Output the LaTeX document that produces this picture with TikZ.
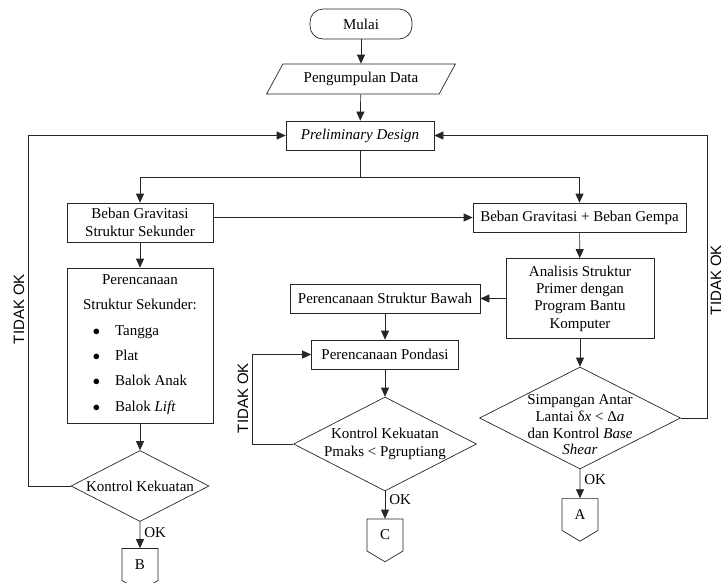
\documentclass[tikz,border=0pt]{standalone}
\usepackage{fontspec}
\setmainfont{Liberation Serif}
\setsansfont{Liberation Sans}
\usetikzlibrary{shapes.geometric, shapes.symbols, arrows.meta, positioning}
\tikzset{
	base/.style={draw=black!85, line width=0.7pt, inner sep=2pt, align=center, font=\fontsize{15}{17.4}\selectfont},
	startstop/.style={base, rounded corners=13pt, minimum width=102pt, minimum height=30pt},
	io/.style={base, trapezium, trapezium left angle=55, trapezium right angle=125, trapezium stretches=true, minimum width=189pt, minimum height=30pt},
	process/.style={base, rectangle, minimum height=29pt},
	decision/.style={draw=black!85, line width=0.7pt, diamond, inner sep=0pt},
	offpage/.style={base, signal, signal to=south, signal pointer angle=118, minimum width=36pt, minimum height=35pt, inner sep=0pt},
	arrow/.style={draw=black!85, line width=0.7pt, -{Triangle[length=9pt, width=8pt]}},
	line/.style={draw=black!85, line width=0.7pt},
	oklbl/.style={right, inner sep=4pt, font=\fontsize{15}{17}\selectfont},
	tidak/.style={rotate=90, inner sep=0pt, font=\sffamily\fontsize{15}{17}\selectfont}
}
\begin{document}
\begin{tikzpicture}[x=1pt, y=-1pt]
	\useasboundingbox (0,0) rectangle (723,582);
	% Nodes
	\node (mulai) [startstop] at (361,24) {Mulai};
	\node (data) [io] at (361,79) {Pengumpulan Data};
	\node (prelim) [process, minimum width=148pt] at (360,135.5) {\textit{Preliminary Design}};
	\node (gravsek) [process, minimum width=146pt, minimum height=39pt] at (140,222.5) {Beban Gravitasi\\Struktur Sekunder};
	\node (gempa) [process, minimum width=213pt] at (579.5,217.5) {Beban Gravitasi + Beban Gempa};
	\node (sekunder) [process, minimum width=146pt, minimum height=155pt] at (140,345.5) {Perencanaan\\[8pt]Struktur Sekunder:\\[8pt]%
		\begin{tabular}[t]{@{}c@{\hspace{15pt}}l@{}}
			$\bullet$ & Tangga\\[8pt]
			$\bullet$ & Plat\\[8pt]
			$\bullet$ & Balok Anak\\[8pt]
			$\bullet$ & Balok \textit{Lift}
		\end{tabular}};
	\node (kontrol1) [decision, minimum width=138pt, minimum height=71pt] at (140,486) {};
	\node (kontrol1txt) [base, draw=none] at (kontrol1) {Kontrol Kekuatan};
	\node (B) [offpage] at (140,564.5) {B};
	\node (analisis) [process, minimum width=148pt, minimum height=80pt] at (580,298.5) {Analisis Struktur\\Primer dengan\\Program Bantu\\Komputer};
	\node (bawah) [process, minimum width=190pt] at (385,298.5) {Perencanaan Struktur Bawah};
	\node (pondasi) [process, minimum width=147pt] at (385,354.5) {Perencanaan Pondasi};
	\node (kontrol2) [decision, minimum width=183pt, minimum height=94pt] at (385,444) {};
	\node (kontrol2txt) [base, draw=none] at (kontrol2) {Kontrol Kekuatan\\Pmaks < Pgruptiang};
	\node (C) [offpage] at (385,535) {C};
	\node (kontrol3) [decision, minimum width=201pt, minimum height=102pt] at (580,418) {};
	\node (kontrol3txt) [base, draw=none, font=\fontsize{15}{16.7}\selectfont] at (580,425) {Simpangan Antar\\Lantai δ\textit{x} < Δ\textit{a}\\dan Kontrol \textit{Base}\\\textit{Shear}};
	\node (A) [offpage] at (580,514.5) {A};
	\node (tidak1) [tidak] at (19,309) {TIDAK OK};
	\node (tidak2) [tidak] at (243,398) {TIDAK OK};
	\node (tidak3) [tidak] at (716,280) {TIDAK OK};

	% Arrows
	\coordinate (split) at (360,177);
	\draw [arrow] (mulai) -- (data);
	\draw [arrow] (data) -- (prelim);
	\draw [line] (prelim) -- (split);
	\draw [arrow] (split) -| (gravsek);
	\draw [arrow] (split) -| (gempa);
	\draw [arrow] (gravsek.east |- gempa.west) -- (gempa.west);
	\draw [arrow] (gravsek) -- (sekunder);
	\draw [arrow] (sekunder) -- (kontrol1);
	\draw [arrow] (kontrol1.west) -- ++(-42,0) |- (prelim.west);
	\draw [arrow] (kontrol1) -- (B) node [oklbl, pos=0.4] {OK};
	\draw [arrow] (gempa) -- (analisis);
	\draw [arrow] (analisis) -- (bawah);
	\draw [arrow] (bawah) -- (pondasi);
	\draw [arrow] (pondasi) -- (kontrol2);
	\draw [arrow] (kontrol2.west) -- ++(-41,0) |- (pondasi.west);
	\draw [arrow] (kontrol2) -- (C) node [oklbl, pos=0.3] {OK};
	\draw [arrow] (analisis) -- (kontrol3);
	\draw [arrow] (kontrol3.east) -- ++(26,0) |- (prelim.east);
	\draw [arrow] (kontrol3) -- (A) node [oklbl, pos=0.35] {OK};
\end{tikzpicture}
\end{document}
